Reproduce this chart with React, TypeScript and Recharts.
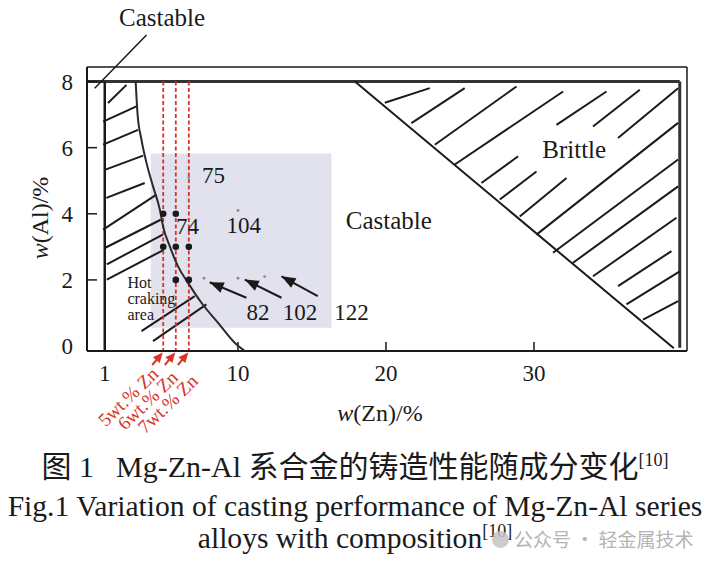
import React from 'react'
import { ComposedChart, XAxis, YAxis, Line, Scatter, ReferenceLine, ReferenceArea } from 'recharts'

const SERIF = '"Liberation Serif", "Times New Roman", serif'
const CJK = '"Liberation Serif", "Noto Sans CJK SC", sans-serif'
const RED = '#d8342a'
const INK = '#1a1a1a'

// ejes: w(Zn) / w(Al)
const X_DOMAIN: [number, number] = [-0.2, 40.34]
const Y_DOMAIN: [number, number] = [-0.15, 8.44]
const X_TICKS = [1, 10, 20, 30]
const Y_TICKS = [0, 2, 4, 6, 8]

// frontera de agrietamiento en caliente
const boundaryCurve = [
  { x: 3.09, y: 7.99 },
  { x: 3.21, y: 7.05 },
  { x: 3.48, y: 6.24 },
  { x: 3.82, y: 5.54 },
  { x: 4.26, y: 4.83 },
  { x: 4.72, y: 4.13 },
  { x: 4.94, y: 3.62 },
  { x: 5.39, y: 3.02 },
  { x: 5.95, y: 2.41 },
  { x: 6.63, y: 1.91 },
  { x: 7.53, y: 1.31 },
  { x: 8.66, y: 0.7 },
  { x: 9.78, y: 0.1 },
  { x: 10.46, y: -0.15 },
]

// frontera frágil (diagonal)
const brittleBoundary = [
  { x: 17.9, y: 8 },
  { x: 39.45, y: -0.07 },
]

// lineas de Zn marcadas
const znLines = [
  { x: 4.95, label: '5wt.% Zn' },
  { x: 5.8, label: '6wt.% Zn' },
  { x: 6.68, label: '7wt.% Zn' },
]

// aleaciones ensayadas (puntos negros)
const testedAlloys = [
  { x: 4.95, y: 4 },
  { x: 5.8, y: 4 },
  { x: 4.95, y: 3 },
  { x: 5.8, y: 3 },
  { x: 6.68, y: 3 },
  { x: 5.8, y: 2 },
  { x: 6.68, y: 2 },
]

// aleaciones ZA (puntos grises)
const zaAlloys = [
  { x: 6.68, y: 5.1 },
  { x: 10, y: 4.1 },
  { x: 7.7, y: 2.05 },
  { x: 10, y: 2.05 },
  { x: 11.8, y: 2.1 },
]

const alloyLabels = [
  { x: 8.34, y: 5.18, t: '75' },
  { x: 6.59, y: 3.64, t: '74' },
  { x: 10.39, y: 3.67, t: '104' },
  { x: 11.36, y: 1.01, t: '82' },
  { x: 14.2, y: 1.01, t: '102' },
  { x: 17.67, y: 1.03, t: '122' },
]

const regionLabels = [
  { x: 20.19, y: 3.79, t: 'Castable' },
  { x: 32.72, y: 5.94, t: 'Brittle' },
]

const hotLabel = [{ x: 2.53, y: 1.91 }]
const HOT_LINES = ['Hot', 'craking', 'area']

// flechas hacia 82, 102, 122
const pointerArrows = [
  { x1: 10.57, y1: 1.46, x2: 8.09, y2: 1.93 },
  { x1: 12.94, y1: 1.46, x2: 10.46, y2: 2.01 },
  { x1: 15.39, y1: 1.51, x2: 12.94, y2: 2.11 },
]

// trama: [x1, y1, x2, y2]
const leftHatch = [
  [1.22, 7.35, 2.47, 7.9],
  [0.89, 6.79, 3.14, 7.25],
  [0.89, 6.09, 3.25, 6.54],
  [1.0, 5.33, 3.59, 5.76],
  [1.11, 4.48, 3.7, 4.93],
  [0.89, 3.52, 4.49, 4.58],
  [1.07, 2.98, 4.78, 3.82],
  [1.14, 2.47, 4.92, 3.37],
  [1.14, 2.01, 4.99, 2.91],
]
const crackHatch = [
  [3.48, 0.45, 7.08, 1.51],
  [4.26, 0.15, 7.87, 1.26],
]
const brittleHatch = [
  [19.92, 7.36, 22.96, 7.8],
  [21.72, 6.74, 25.32, 7.8],
  [23.3, 6.09, 28.82, 7.85],
  [24.65, 5.49, 31.97, 7.7],
  [31.52, 6.69, 34.9, 7.7],
  [33.99, 6.64, 37.15, 7.75],
  [35.68, 6.29, 39.74, 7.8],
  [26.45, 4.93, 28.93, 5.74],
  [27.69, 4.43, 30.17, 5.28],
  [29.04, 3.92, 32.2, 5.08],
  [30.17, 3.37, 39.74, 6.75],
  [31.29, 2.82, 39.74, 5.64],
  [32.64, 2.52, 39.74, 4.83],
  [33.99, 2.11, 39.63, 3.88],
  [35.68, 1.81, 39.29, 2.87],
  [36.25, 1.26, 39.85, 2.26],
  [37.37, 0.8, 39.74, 1.36],
]

const shadedZone = { x1: 4.11, x2: 16.32, y1: 0.55, y2: 5.82 }
const castableLeader = [
  { x: 3.82, y: 9.41 },
  { x: 0.32, y: 7.8 },
]
const FRAME_TOP = 8
const FRAME_RIGHT = 39.85

const W = 700
const H = 440
const MARGIN = { top: 59, right: 21, bottom: 67, left: 19 }
const Y_AXIS_W = 60
const X_AXIS_H = 30
const PLOT_W = W - MARGIN.left - MARGIN.right - Y_AXIS_W
const PLOT_H = H - MARGIN.top - MARGIN.bottom - X_AXIS_H
const PX_X = PLOT_W / (X_DOMAIN[1] - X_DOMAIN[0])
const PX_Y = PLOT_H / (Y_DOMAIN[1] - Y_DOMAIN[0])

function arrowHead(tipX: number, tipY: number, ang: number, len: number, half: number, color: string) {
  const bx = tipX - len * Math.cos(ang)
  const by = tipY - len * Math.sin(ang)
  const px = -Math.sin(ang) * half
  const py = Math.cos(ang) * half
  return (
    <polygon
      points={`${tipX},${tipY} ${bx + px},${by + py} ${bx - px},${by - py}`}
      fill={color}
    />
  )
}

// eslint-disable-next-line @typescript-eslint/no-explicit-any
function BigDot(props: any) {
  if (props.cx == null) return null
  return <circle cx={props.cx} cy={props.cy} r={3.3} fill={INK} />
}

// eslint-disable-next-line @typescript-eslint/no-explicit-any
function SmallDot(props: any) {
  if (props.cx == null) return null
  return <circle cx={props.cx} cy={props.cy} r={1.4} fill="#8a8a8a" />
}

function textShape(size: number) {
  // eslint-disable-next-line @typescript-eslint/no-explicit-any
  return (props: any) => (
    <text
      x={props.cx}
      y={props.cy}
      dy="0.34em"
      textAnchor="middle"
      fontFamily={SERIF}
      fontSize={size}
      fill={INK}
    >
      {props.payload.t}
    </text>
  )
}

// eslint-disable-next-line @typescript-eslint/no-explicit-any
function HotText(props: any) {
  return (
    <text x={props.cx} y={props.cy} dy="0.34em" fontFamily={SERIF} fontSize={16} fill={INK}>
      {HOT_LINES.map((s, i) => (
        <tspan key={s} x={props.cx} dy={i === 0 ? '0.34em' : 16}>
          {s}
        </tspan>
      ))}
    </text>
  )
}

// eslint-disable-next-line @typescript-eslint/no-explicit-any
function ZnArrow(props: any) {
  const { cx, cy, payload, index } = props
  if (cx == null) return null
  const k = index ?? 0
  const tipX = cx - 0.5
  const tipY = cy + 1.5
  const tailX = cx - 11
  const tailY = cy + 14
  const ang = Math.atan2(tipY - tailY, tipX - tailX)
  // las etiquetas se apilan en diagonal
  const tx = cx - 8 + k * 7
  const ty = cy + 20 + k * 3.5
  return (
    <g>
      <line
        x1={tailX}
        y1={tailY}
        x2={tipX - 6 * Math.cos(ang)}
        y2={tipY - 6 * Math.sin(ang)}
        stroke={RED}
        strokeWidth={2}
      />
      {arrowHead(tipX, tipY, ang, 10, 4.5, RED)}
      <text
        x={tx}
        y={ty}
        dy="0.33em"
        textAnchor="end"
        transform={`rotate(-44 ${tx} ${ty})`}
        fontFamily={SERIF}
        fontSize={19}
        fill={RED}
      >
        {payload.label}
      </text>
    </g>
  )
}

function pointerShape(a: { x1: number; y1: number; x2: number; y2: number }) {
  const ang = Math.atan2(-(a.y2 - a.y1) * PX_Y, (a.x2 - a.x1) * PX_X)
  // eslint-disable-next-line @typescript-eslint/no-explicit-any
  return (props: any) => {
    if (props.cx == null || props.index !== 1) return <g />
    return arrowHead(props.cx, props.cy, ang, 14, 5.5, INK)
  }
}

function segLine(s: number[], key: string, width = 2) {
  return (
    <ReferenceLine
      key={key}
      segment={[
        { x: s[0], y: s[1] },
        { x: s[2], y: s[3] },
      ]}
      stroke={INK}
      strokeWidth={width}
      ifOverflow="visible"
    />
  )
}

const supStyle: React.CSSProperties = { fontSize: 18, verticalAlign: 'top', position: 'relative', top: -7 }

export default function App() {
  return (
    <div style={{ position: 'relative', width: 709, height: 556, fontFamily: SERIF, color: INK }}>
      <ComposedChart width={W} height={H} margin={MARGIN}>
        <XAxis
          type="number"
          dataKey="x"
          domain={X_DOMAIN}
          ticks={X_TICKS}
          height={X_AXIS_H}
          tickLine={false}
          tickSize={6}
          tickMargin={8}
          axisLine={{ stroke: INK, strokeWidth: 2 }}
          tick={{ fontSize: 23, fontFamily: SERIF, fill: INK }}
          interval={0}
        />
        <YAxis
          type="number"
          dataKey="y"
          domain={Y_DOMAIN}
          ticks={Y_TICKS}
          width={Y_AXIS_W}
          tickLine={false}
          tickSize={6}
          tickMargin={8}
          axisLine={{ stroke: INK, strokeWidth: 2 }}
          tick={{ fontSize: 23, fontFamily: SERIF, fill: INK }}
          interval={0}
        />

        <ReferenceArea
          x1={shadedZone.x1}
          x2={shadedZone.x2}
          y1={shadedZone.y1}
          y2={shadedZone.y2}
          fill="#e2e2ef"
          fillOpacity={1}
          stroke="none"
        />

        {/* marco */}
        <ReferenceLine y={Y_DOMAIN[1]} stroke={INK} strokeWidth={1.5} />
        <ReferenceLine x={X_DOMAIN[1]} stroke={INK} strokeWidth={1.5} />
        <ReferenceLine
          segment={[
            { x: X_DOMAIN[0], y: FRAME_TOP },
            { x: FRAME_RIGHT, y: FRAME_TOP },
          ]}
          stroke="#333"
          strokeWidth={3}
        />
        <ReferenceLine
          segment={[
            { x: FRAME_RIGHT, y: FRAME_TOP },
            { x: FRAME_RIGHT, y: -0.05 },
          ]}
          stroke="#333"
          strokeWidth={3}
        />
        {Y_TICKS.slice(1).map((t) => (
          <ReferenceLine
            key={'yt' + t}
            segment={[
              { x: X_DOMAIN[0], y: t },
              { x: X_DOMAIN[0] + 10 / PX_X, y: t },
            ]}
            stroke={INK}
            strokeWidth={1.5}
          />
        ))}
        {X_TICKS.slice(1).map((t) => (
          <ReferenceLine
            key={'xt' + t}
            segment={[
              { x: t, y: Y_DOMAIN[0] },
              { x: t, y: Y_DOMAIN[0] + 9 / PX_Y },
            ]}
            stroke={INK}
            strokeWidth={1.5}
          />
        ))}

        {/* borde izquierdo en 1 % Zn */}
        <ReferenceLine
          segment={[
            { x: 1, y: FRAME_TOP },
            { x: 1, y: Y_DOMAIN[0] },
          ]}
          stroke={INK}
          strokeWidth={2.5}
        />
        <ReferenceLine segment={[brittleBoundary[0], brittleBoundary[1]]} stroke={INK} strokeWidth={2} />
        <ReferenceLine
          segment={[castableLeader[0], castableLeader[1]]}
          stroke={INK}
          strokeWidth={1.5}
          ifOverflow="visible"
        />

        {leftHatch.map((s, i) => segLine(s, 'lh' + i))}
        {crackHatch.map((s, i) => segLine(s, 'ch' + i))}
        {brittleHatch.map((s, i) => segLine(s, 'bh' + i))}

        {znLines.map((z) => (
          <ReferenceLine
            key={z.label}
            segment={[
              { x: z.x, y: FRAME_TOP },
              { x: z.x, y: Y_DOMAIN[0] },
            ]}
            stroke={RED}
            strokeWidth={1.8}
            strokeDasharray="4 2.5"
          />
        ))}

        <Line
          data={boundaryCurve}
          dataKey="y"
          type="monotone"
          stroke="#2a2a2a"
          strokeWidth={2}
          dot={false}
          activeDot={false}
          isAnimationActive={false}
        />

        <Scatter data={testedAlloys} shape={BigDot} isAnimationActive={false} />
        <Scatter data={zaAlloys} shape={SmallDot} isAnimationActive={false} />
        {pointerArrows.map((a, i) => (
          <Scatter
            key={'pa' + i}
            data={[
              { x: a.x1, y: a.y1 },
              { x: a.x2, y: a.y2 },
            ]}
            line={{ stroke: INK, strokeWidth: 2 }}
            shape={pointerShape(a)}
            isAnimationActive={false}
          />
        ))}
        <Scatter data={alloyLabels} shape={textShape(23)} isAnimationActive={false} />
        <Scatter data={regionLabels} shape={textShape(25)} isAnimationActive={false} />
        <Scatter data={hotLabel} shape={HotText} isAnimationActive={false} />
        <Scatter
          data={znLines.map((z) => ({ x: z.x, y: Y_DOMAIN[0], label: z.label }))}
          shape={ZnArrow}
          isAnimationActive={false}
        />
      </ComposedChart>

      {/* etiquetas fuera del area */}
      <div style={{ position: 'absolute', left: 94, top: -3, width: 120, textAlign: 'center', fontSize: 25, lineHeight: '26px' }}>
        Castable
      </div>
      <div style={{ position: 'absolute', left: 312, top: 392, width: 120, textAlign: 'center', fontSize: 24, lineHeight: '26px' }}>
        <i>w</i>(Zn)/%
      </div>
      <div
        style={{
          position: 'absolute',
          left: -28,
          top: 197,
          width: 120,
          height: 26,
          textAlign: 'center',
          fontSize: 24,
          lineHeight: '26px',
          transform: 'rotate(-90deg)',
        }}
      >
        <i>w</i>(Al)/%
      </div>

      {/* pie de figura */}
      <div
        style={{
          position: 'absolute',
          left: -8,
          top: 442,
          width: 710,
          textAlign: 'center',
          fontFamily: CJK,
          fontSize: 30,
          lineHeight: '34px',
          whiteSpace: 'nowrap',
        }}
      >
        图 1<span style={{ display: 'inline-block', width: 22 }} />Mg-Zn-Al 系合金的铸造性能随成分变化
        <sup style={supStyle}>[10]</sup>
      </div>
      <div style={{ position: 'absolute', left: -8, top: 482, width: 710, textAlign: 'center', fontSize: 29.6, lineHeight: '32px', whiteSpace: 'nowrap' }}>
        Fig.1 Variation of casting performance of Mg-Zn-Al series
      </div>
      <div style={{ position: 'absolute', left: -8, top: 514, width: 710, textAlign: 'center', fontSize: 29.6, lineHeight: '32px', whiteSpace: 'nowrap' }}>
        alloys with composition
        <sup style={supStyle}>[10]</sup>
      </div>
      <div
        style={{
          position: 'absolute',
          left: 484,
          top: 518,
          fontFamily: '"Noto Sans CJK SC", sans-serif',
          fontSize: 19,
          lineHeight: '26px',
          color: '#b4b4b4',
          whiteSpace: 'nowrap',
          display: 'flex',
          alignItems: 'center',
        }}
      >
        <span style={{ display: 'inline-block', width: 17, height: 17, borderRadius: 9, background: '#c4c4c4', marginRight: 5, opacity: 0.85 }} />
        公众号 · 轻金属技术
      </div>
    </div>
  )
}
